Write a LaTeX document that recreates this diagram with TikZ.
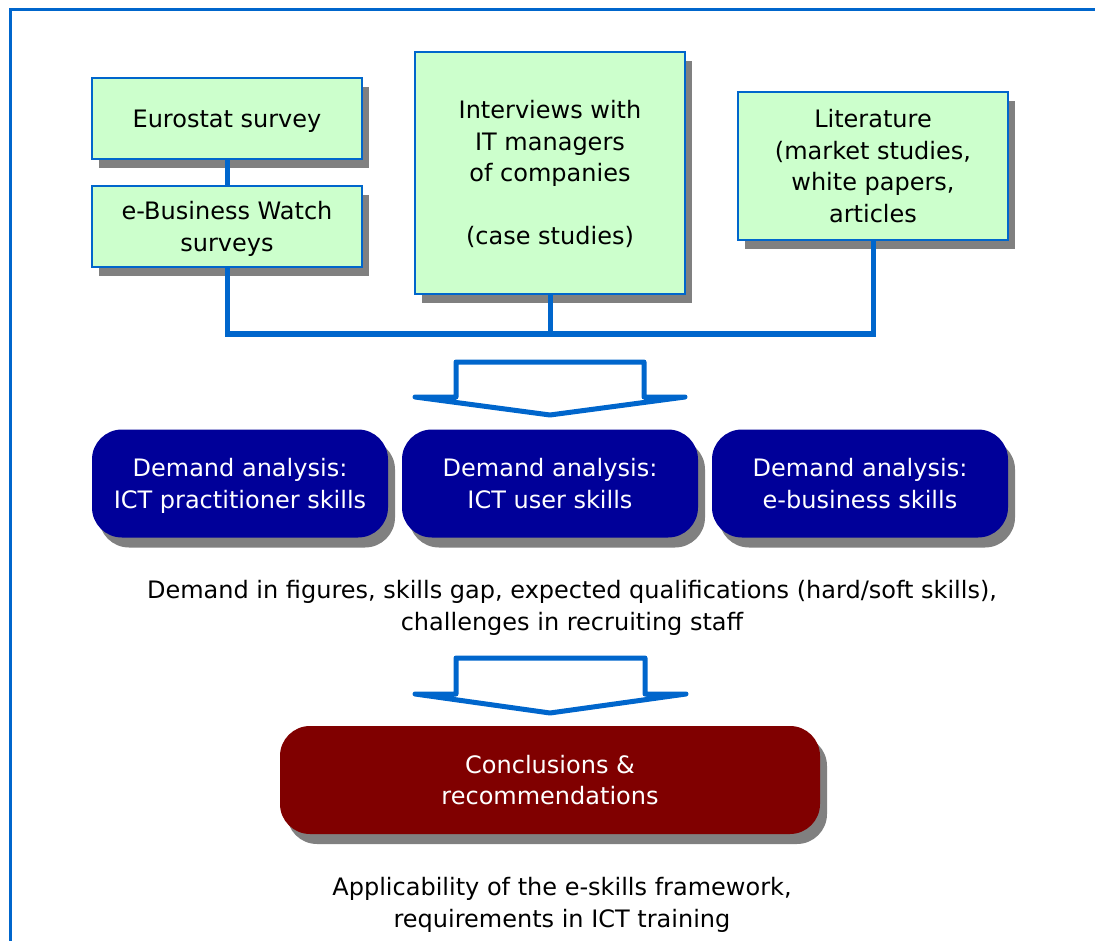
\documentclass[tikz,border=0pt]{standalone}
\usepackage{fontspec}
\setmainfont{DejaVu Sans}
\usetikzlibrary{shadows}
\definecolor{frameblue}{HTML}{0066CC}
\definecolor{boxgreen}{HTML}{CCFFCC}
\definecolor{navybox}{HTML}{000099}
\definecolor{darkred}{HTML}{800000}
\definecolor{shadowgray}{HTML}{808080}
\newcommand\boxlines[1]{\raisebox{0pt}[\dimexpr\height+5pt\relax][\depth]{\begin{tabular}{@{}c@{}}#1\end{tabular}}}
\tikzset{
  txt/.style={font=\fontsize{24}{31.5}\selectfont, inner sep=0pt},
  greenbox/.style={txt, rectangle, fill=boxgreen, draw=frameblue, line width=2pt,
    drop shadow={shadow xshift=7pt, shadow yshift=-9pt, fill=shadowgray, opacity=1}},
  roundbox/.style={txt, rectangle, rounded corners=30pt, text=white,
    minimum width=296pt, minimum height=108pt,
    drop shadow={shadow xshift=7pt, shadow yshift=-10pt, fill=shadowgray, opacity=1}},
  conn/.style={draw=frameblue, line width=5pt},
  blockarrow/.style={draw=frameblue, line width=5pt, line join=round, line cap=round},
}
\begin{document}
\begin{tikzpicture}[x=1pt, y=-1pt]
\useasboundingbox (0,0) rectangle (1095,941);
\begin{scope}
\clip (0,0) rectangle (1095,941);
\draw[frameblue, line width=3pt] (10,10) rectangle (1120,980);
\end{scope}

% green source boxes
\node[greenbox, minimum width=270pt, minimum height=81pt] (euro) at (227,118.5) {\boxlines{Eurostat survey}};
\node[greenbox, minimum width=270pt, minimum height=81pt] (ebw) at (227,226.5) {\boxlines{e-Business Watch\\surveys}};
\node[greenbox, minimum width=270pt, minimum height=242pt] (int) at (550,173) {\boxlines{Interviews with\\IT managers\\of companies\\ \\(case studies)}};
\node[greenbox, minimum width=270pt, minimum height=148pt] (lit) at (873,166) {\boxlines{Literature\\(market studies,\\white papers,\\articles}};

\coordinate (bus) at (550,334);
\draw[conn] (euro.south) -- (ebw.north);
\draw[conn] (ebw.south) |- (bus) -| (lit.south);
\draw[conn] (int.south) -- (bus);

% block arrow 1
\draw[blockarrow] (456,397) -- (456,362) -- (644,362) -- (644,397) -- (685,397) -- (550,415) -- (415,397) -- cycle;

% demand analysis boxes
\node[roundbox, fill=navybox] (da1) at (240,483.5) {\boxlines{Demand analysis:\\ICT practitioner skills}};
\node[roundbox, fill=navybox] (da2) at (550,483.5) {\boxlines{Demand analysis:\\ICT user skills}};
\node[roundbox, fill=navybox] (da3) at (860,483.5) {\boxlines{Demand analysis:\\e-business skills}};

\node[txt] (demandtxt) at (572,605.5) {\boxlines{Demand in figures, skills gap, expected qualifications (hard/soft skills),\\challenges in recruiting staff}};

% block arrow 2
\draw[blockarrow] (456,694) -- (456,658) -- (645,658) -- (645,694) -- (686,694) -- (550,713) -- (415,694) -- cycle;

\node[roundbox, fill=darkred, minimum width=540pt, minimum height=108pt] (concl) at (550,780) {\boxlines{Conclusions \&\\recommendations}};

\node[txt] (applic) at (562,902.5) {\boxlines{Applicability of the e-skills framework,\\requirements in ICT training}};
\end{tikzpicture}
\end{document}
